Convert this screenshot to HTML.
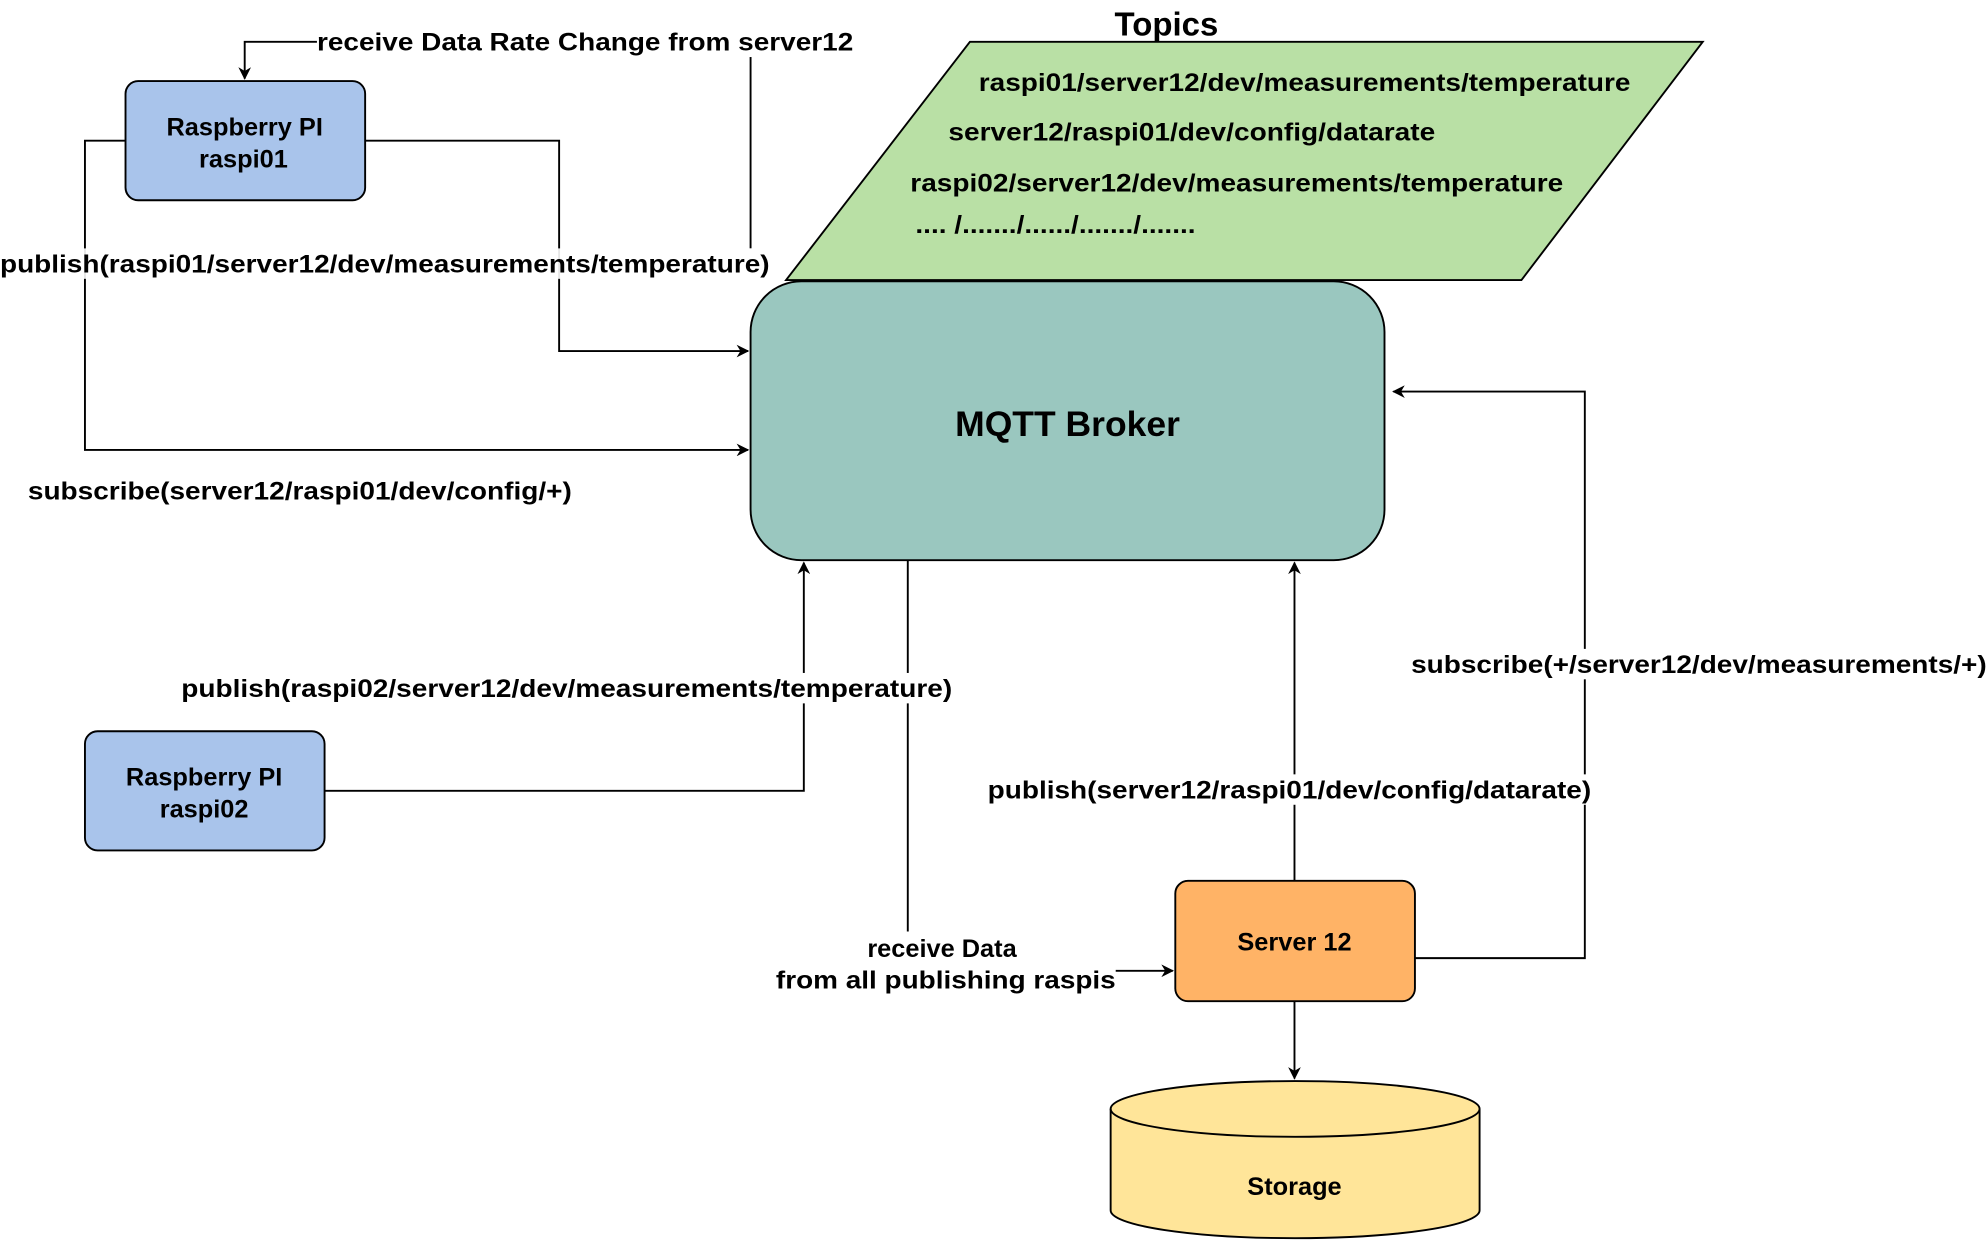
<!DOCTYPE html>
<html><head><meta charset="utf-8"><style>html,body{margin:0;padding:0;background:#fff}svg{display:block}</style></head>
<body>
<svg width="1988" height="1242" viewBox="0 0 1568 980" preserveAspectRatio="none" xmlns="http://www.w3.org/2000/svg" font-family="Liberation Sans, Arial, sans-serif" font-weight="bold">
<defs>
<marker id="a" markerWidth="10" markerHeight="10" refX="9" refY="5" orient="auto" markerUnits="userSpaceOnUse">
<path d="M0,0 L10,5 L0,10 L3,5 Z" fill="#000"/></marker>
</defs>
<!-- Topics -->
<text x="920" y="28" font-size="26" text-anchor="middle">Topics</text>
<polygon points="765,33 1343,33 1200,221 620,221" fill="#b9e0a5" stroke="#000" stroke-width="1.5"/>
<g font-size="20">
<text x="772" y="72" textLength="514" lengthAdjust="spacingAndGlyphs">raspi01/server12/dev/measurements/temperature</text>
<text x="748" y="111" textLength="384" lengthAdjust="spacingAndGlyphs">server12/raspi01/dev/config/datarate</text>
<text x="718" y="151" textLength="515" lengthAdjust="spacingAndGlyphs">raspi02/server12/dev/measurements/temperature</text>
<text x="722" y="184" textLength="221" lengthAdjust="spacingAndGlyphs">.... /......./....../......./.......</text>
</g>
<!-- Broker -->
<rect x="592" y="222" width="500" height="220" rx="40" fill="#9ac7bf" stroke="#000" stroke-width="1.5"/>
<text x="842" y="344" font-size="28" text-anchor="middle">MQTT Broker</text>
<!-- connectors -->
<g fill="none" stroke="#000" stroke-width="1.5">
<path d="M288,111 H441 V277 H590" marker-end="url(#a)"/>
<path d="M99,111 H67 V355 H590" marker-end="url(#a)"/>
<path d="M592,196 V45"/>
<path d="M250,33 H193 V62" marker-end="url(#a)"/>
<path d="M256,624 H634 V444" marker-end="url(#a)"/>
<path d="M716,442 V735"/>
<path d="M880,766 H925" marker-end="url(#a)"/>
<path d="M1021,695 V444" marker-end="url(#a)"/>
<path d="M1116,756 H1250 V309 H1099" marker-end="url(#a)"/>
<path d="M1021,790 V851" marker-end="url(#a)"/>
</g>
<!-- labels -->
<g font-size="20">
<rect x="0" y="196" width="607" height="24" fill="#fff" opacity="0.9"/>
<text x="0" y="215" textLength="607" lengthAdjust="spacingAndGlyphs">publish(raspi01/server12/dev/measurements/temperature)</text>
<rect x="250" y="21" width="424" height="24" fill="#fff"/>
<text x="250" y="40" textLength="423" lengthAdjust="spacingAndGlyphs">receive Data Rate Change from server12</text>
<text x="22" y="394" textLength="429" lengthAdjust="spacingAndGlyphs">subscribe(server12/raspi01/dev/config/+)</text>
<rect x="143" y="531" width="608" height="24" fill="#fff"/>
<text x="143" y="550" textLength="608" lengthAdjust="spacingAndGlyphs">publish(raspi02/server12/dev/measurements/temperature)</text>
<text x="743" y="755" text-anchor="middle">receive Data</text>
<text x="746" y="780" text-anchor="middle" textLength="268" lengthAdjust="spacingAndGlyphs">from all publishing raspis</text>
<rect x="779" y="611" width="476" height="24" fill="#fff"/>
<text x="779" y="630" textLength="476" lengthAdjust="spacingAndGlyphs">publish(server12/raspi01/dev/config/datarate)</text>
<rect x="1113" y="512" width="454" height="24" fill="#fff"/>
<text x="1113" y="531" textLength="454" lengthAdjust="spacingAndGlyphs">subscribe(+/server12/dev/measurements/+)</text>
</g>
<path d="M1021,630 V695 M1250,536 V756" stroke="#000" stroke-width="1.5" fill="none" opacity="0"/>
<!-- nodes -->
<rect x="99" y="64" width="189" height="94" rx="10" fill="#a9c4eb" stroke="#000" stroke-width="1.5"/>
<text x="193" y="107" font-size="20" text-anchor="middle">Raspberry PI</text>
<text x="192" y="132" font-size="20" text-anchor="middle">raspi01</text>
<rect x="67" y="577" width="189" height="94" rx="10" fill="#a9c4eb" stroke="#000" stroke-width="1.5"/>
<text x="161" y="620" font-size="20" text-anchor="middle">Raspberry PI</text>
<text x="161" y="645" font-size="20" text-anchor="middle">raspi02</text>
<rect x="927" y="695" width="189" height="95" rx="10" fill="#ffb366" stroke="#000" stroke-width="1.5"/>
<text x="1021" y="750" font-size="20" text-anchor="middle">Server 12</text>
<!-- storage -->
<path d="M876,875 A145.5,22 0 0 1 1167,875 V955 A145.5,22 0 0 1 876,955 Z" fill="#ffe599" stroke="#000" stroke-width="1.5"/>
<path d="M876,875 A145.5,22 0 0 0 1167,875" fill="none" stroke="#000" stroke-width="1.5"/>
<text x="1021" y="943" font-size="20" text-anchor="middle">Storage</text>
</svg>
</body></html>
